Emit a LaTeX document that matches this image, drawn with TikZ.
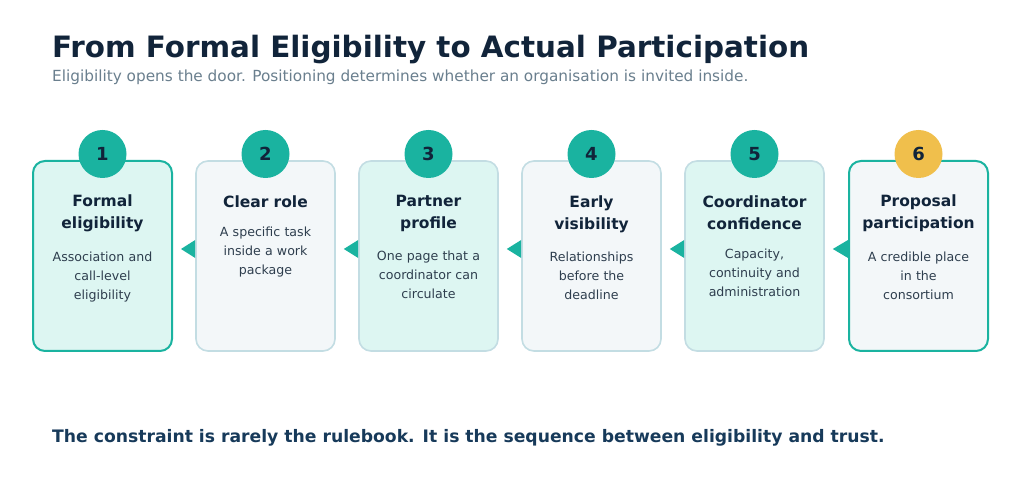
\documentclass[tikz,border=0pt]{standalone}
\usepackage{fontspec}
\setmainfont{DejaVu Sans}
\usetikzlibrary{calc}
\definecolor{teal1}{HTML}{1AB3A0}
\definecolor{gold1}{HTML}{F0BF4C}
\definecolor{navy}{HTML}{11243A}
\definecolor{subgray}{HTML}{6A7F8E}
\definecolor{bottomblue}{HTML}{173A5A}
\definecolor{bodytext}{HTML}{2E3E4E}
\definecolor{filla}{HTML}{DDF6F2}
\definecolor{fillb}{HTML}{F3F7F9}
\definecolor{bordergray}{HTML}{C3DDE3}
\begin{document}
\begin{tikzpicture}[x=1pt,y=1pt,
  box/.style={rounded corners=12pt, minimum width=139pt, minimum height=190pt, inner sep=0pt},
  boxa/.style={box, fill=filla, draw=bordergray, line width=1.6pt},
  boxb/.style={box, fill=fillb, draw=bordergray, line width=1.6pt},
  edgebox/.style={draw=teal1, line width=2pt},
  num/.style={circle, minimum size=48pt, inner sep=0pt, fill=teal1, text=navy, font=\bfseries\fontsize{18}{20}\selectfont},
  goldnum/.style={num, fill=gold1},
  ttl/.style={anchor=north, text width=135pt, align=center, inner sep=0pt, text=navy, font=\bfseries\fontsize{15.5}{22}\selectfont},
  bdy/.style={anchor=north, text width=130pt, align=center, inner sep=0pt, text=bodytext, font=\fontsize{12.6}{19}\selectfont},
  arr/.style={fill=teal1}
]
\useasboundingbox[fill=white] (0,0) rectangle (1024,486);

\node[anchor=base west, inner sep=0pt, text=navy, font=\bfseries\fontsize{29.4}{34}\selectfont] (title) at (52,428) {From Formal Eligibility to Actual Participation};
\node[anchor=base west, inner sep=0pt, text=subgray, font=\fontsize{15.3}{18}\selectfont] (sub) at (52,404) {Eligibility opens the door. Positioning determines whether an organisation is invited inside.};

\node[boxa, edgebox] (b1) at (102.5,230) {};
\node[boxb] (b2) at (265.5,230) {};
\node[boxa] (b3) at (428.5,230) {};
\node[boxb] (b4) at (591.5,230) {};
\node[boxa] (b5) at (754.5,230) {};
\node[boxb, edgebox] (b6) at (918.5,230) {};

\node[num] (c1) at (102.5,332) {1};
\node[num] (c2) at (265.5,332) {2};
\node[num] (c3) at (428.5,332) {3};
\node[num] (c4) at (591.5,332) {4};
\node[num] (c5) at (754.5,332) {5};
\node[goldnum] (c6) at (918.5,332) {6};

\foreach \i/\t/\b in {1/{Formal\\eligibility}/{Association and\\call-level\\eligibility},
                      2/{Clear role}/{A specific task\\inside a work\\package},
                      3/{Partner\\profile}/{One page that a\\coordinator can\\circulate},
                      4/{Early\\visibility}/{Relationships\\before the\\deadline},
                      5/{Coordinator\\confidence}/{Capacity,\\continuity and\\administration},
                      6/{Proposal\\participation}/{A credible place\\in the\\consortium}}{
  \node[ttl] (t\i) at ($(b\i.north)+(0,-35)$) {\t};
  \node[bdy] (d\i) at ($(t\i.south)+(0,-19)$) {\b};
}

\foreach \a/\b in {1/2,2/3,3/4,4/5,5/6}{
  \fill[arr] ($(b\a.east)+(8,7)$) coordinate (tip\a) -- ($(b\b.west)+(0,16)$) -- ($(b\b.west)+(0,-2)$) -- cycle;
}

\node[anchor=base west, inner sep=0pt, text=bottomblue, font=\bfseries\fontsize{17.2}{20}\selectfont] (bottom) at (52,43) {The constraint is rarely the rulebook. It is the sequence between eligibility and trust.};
\end{tikzpicture}
\end{document}
